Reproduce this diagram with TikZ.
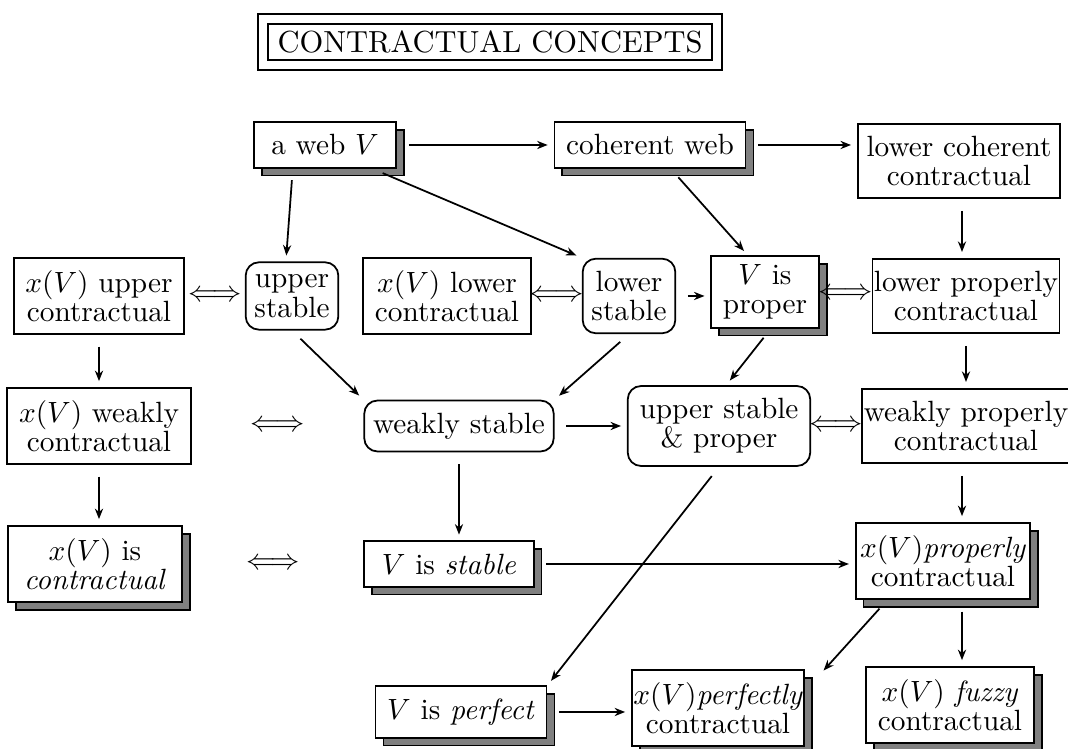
\documentclass[tikz,border=0pt]{standalone}
\usetikzlibrary{positioning, arrows.meta, shadows, calc}

\begin{document}
\begin{tikzpicture}[
  x=0.3413pt, y=-0.3413pt,
  every node/.style={font=\fontsize{10}{10}\selectfont},
  concept/.style={
    rectangle, draw, fill=white, line width=0.6pt,
    align=center, inner xsep=4pt, inner ysep=4.2pt
  },
  shaded/.style={
    concept,
    drop shadow={shadow xshift=2.7pt, shadow yshift=-2.7pt,
      fill=black!50, draw=black, opacity=1}
  },
  stab/.style={
    concept, rounded corners=4.5pt, inner xsep=3pt
  },
  tight/.style={inner xsep=0.5pt},
  equiv/.style={inner sep=0pt},
  arr/.style={
    -{Stealth[length=3.6pt, width=2.8pt]}, line width=0.6pt,
    shorten <=4pt, shorten >=2pt
  }
]
\useasboundingbox (0,0) rectangle (1068,749);

% ================= Title =================
\node[draw, double, double distance=2.6pt, line width=0.65pt,
  font=\fontsize{10.4}{12}\selectfont,
  inner xsep=5pt, inner ysep=4pt] (title) at (490,42) {CONTRACTUAL CONCEPTS};

% ================= Row 1: Webs =================
\node[shaded, inner xsep=6pt] (aweb) at (325,145) {a web $V$};
\node[shaded] (cohweb) at (650,145) {coherent web};
\node[concept, inner xsep=3pt] (lowcoh) at (959,161) {lower coherent\\contractual};

% ================= Row 2: Upper / Lower =================
\node[concept] (upcon) at (99,296) {$x(V)$ upper\\contractual};
\node[stab] (upst) at (292,296) {upper\\stable};
\node[concept] (lowcon) at (447,296) {$x(V)$ lower\\contractual};
\node[stab] (lowst) at (629,296) {lower\\stable};
\node[shaded, inner ysep=2.8pt] (proper) at (765,292) {$V$ is\\proper};
\node[concept, tight] (lowprop) at (966,296) {lower properly\\contractual};

% ================= Row 3: Weak =================
\node[concept] (weakcon) at (99,426) {$x(V)$ weakly\\contractual};
\node[stab] (weakst) at (459,426) {weakly stable};
\node[stab, inner xsep=4pt] (upprop) at (719,426) {upper stable\\\& proper};
\node[concept, tight] (weakprop) at (966,426) {weakly properly\\contractual};

% ================= Row 4: Stable =================
\node[shaded, inner xsep=5.5pt] (iscon) at (95,564) {$x(V)$ is\\\textit{contractual}};
\node[shaded, inner xsep=6pt] (stable) at (449,564) {$V$ is \textit{stable}};
\node[shaded, inner xsep=1.5pt] (propcon) at (943,561) {$x(V)$\textit{properly}\\contractual};

% ================= Row 5: Perfect =================
\node[shaded] (perfect) at (461,712) {$V$ is \textit{perfect}};
\node[shaded, tight] (perfcon) at (718,708) {$x(V)$\textit{perfectly}\\contractual};
\node[shaded] (fuzzy) at (950,705) {$x(V)$ \textit{fuzzy}\\contractual};

% ================= Equivalences =================
\node[equiv] (eqA) at ($(upcon.east)!0.5!(upst.west)$) {$\Longleftrightarrow$};
\node[equiv] (eqB) at ($(lowcon.east)!0.5!(lowst.west)$) {$\Longleftrightarrow$};
\node[equiv] (eqC) at ($(proper.east)!0.5!(lowprop.west)$) {$\Longleftrightarrow$};
\node[equiv] (eqD) at ($(weakcon.east)!0.5!(weakst.west)$) {$\Longleftrightarrow$};
\node[equiv] (eqE) at ($(upprop.east)!0.5!(weakprop.west)$) {$\Longleftrightarrow$};
\node[equiv] (eqF) at ($(iscon.east)!0.5!(stable.west)$) {$\Longleftrightarrow$};

\coordinate (rcol) at (962,0);

% ================= Connections: Row 1 =================
\draw[arr] (aweb) -- (cohweb);
\draw[arr] (cohweb.east) -- (cohweb.east -| lowcoh.west);
\draw[arr] ([xshift=-11pt]aweb.south) -- (upst.100);
\draw[arr] ([xshift=16pt]aweb.south) -- (lowst.north west);
\draw[arr] ([xshift=7pt]cohweb.south) -- (proper.115);
\draw[arr] (lowcoh.south -| rcol) -- (lowprop.north -| rcol);

% ================= Connections: Row 2 =================
\draw[arr] (lowst.east) -- (lowst.east -| proper.west);
\draw[arr] (upcon) -- (upcon |- weakcon.north);
\draw[arr] (upst.south) -- (weakst.north west);
\draw[arr] (lowst.south) -- (weakst.north east);
\draw[arr] ([xshift=2pt]proper.south) -- (upprop.80);
\draw[arr] (lowprop) -- (weakprop);

% ================= Connections: Row 3 =================
\draw[arr] (weakst) -- (upprop);
\draw[arr] (weakcon) -- (weakcon |- iscon.north);
\draw[arr] (weakst.south) -- (weakst.south |- stable.north);
\draw[arr] (weakprop.south -| rcol) -- (propcon.north -| rcol);
\draw[arr] (upprop.south) -- (perfect.north east);

% ================= Connections: Row 4 =================
\draw[arr] (stable.east) -- (stable.east -| propcon.west);
\draw[arr] (propcon.215) -- ([xshift=5pt, yshift=-2pt]perfcon.north east);
\draw[arr] (propcon.south -| rcol) -- (fuzzy.north -| rcol);
\draw[arr] (perfect.east) -- (perfect.east -| perfcon.west);

\end{tikzpicture}
\end{document}
